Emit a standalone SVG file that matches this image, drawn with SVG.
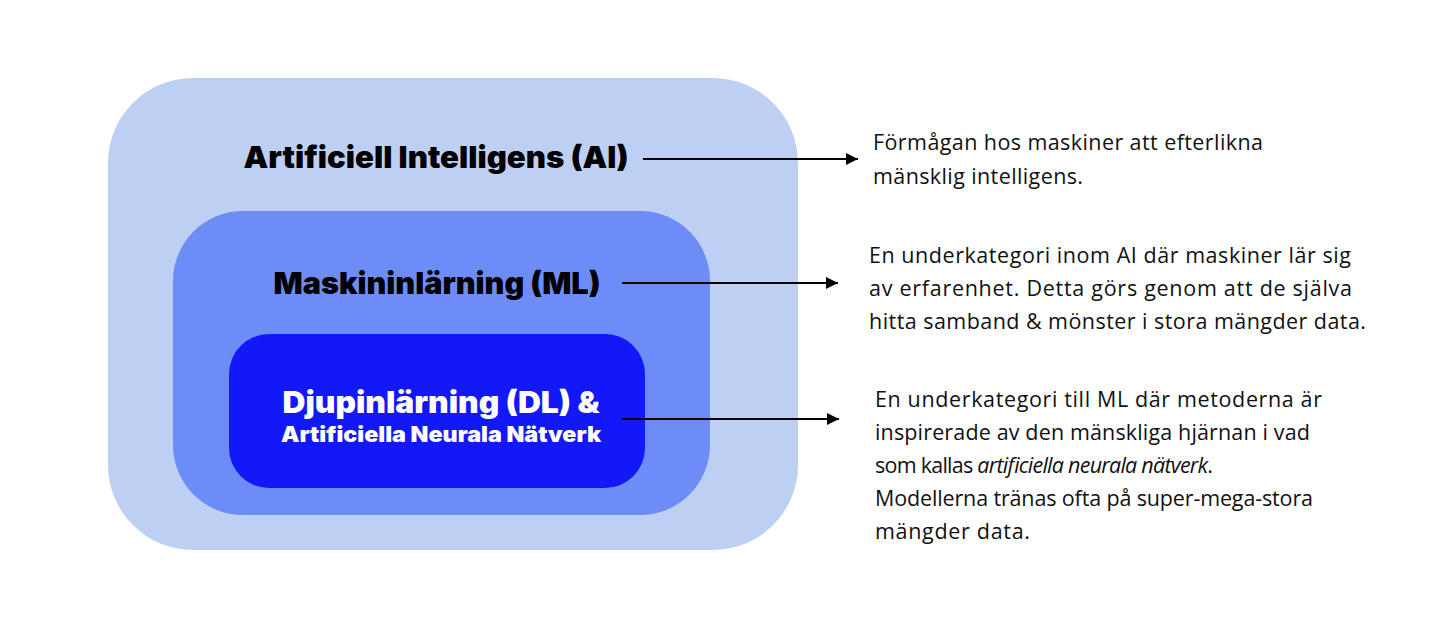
<svg xmlns="http://www.w3.org/2000/svg" width="1456" height="636" viewBox="0 0 1456 636">
<style>
.title{font-family:Inter,"Noto Sans","DejaVu Sans",sans-serif;font-weight:900;}
.desc{font-family:"Open Sans","Noto Sans","Liberation Sans",sans-serif;font-size:21.5px;fill:#111;}
.conn{stroke:#000;stroke-width:2;fill:none;}
</style>
<defs>
<marker id="arr" viewBox="0 0 10 10" refX="10" refY="5" markerWidth="6" markerHeight="6" markerUnits="strokeWidth" orient="auto">
<path d="M0,0 L10,5 L0,10 z" fill="#000"/>
</marker>
</defs>
<rect width="1456" height="636" fill="#fff"/>
<g id="node-ai">
<rect x="108" y="78" width="690" height="472" rx="85" ry="85" fill="#BDD0F3"/>
<text class="title" x="436" y="168" font-size="30" text-anchor="middle" textLength="385" lengthAdjust="spacingAndGlyphs" fill="#000">Artificiell Intelligens (AI)</text>
</g>
<g id="node-ml">
<rect x="173" y="211" width="537" height="304" rx="70" ry="70" fill="#6E8CF5"/>
<text class="title" x="437" y="294" font-size="30" text-anchor="middle" textLength="327" lengthAdjust="spacingAndGlyphs" fill="#000">Maskininlärning (ML)</text>
</g>
<g id="node-dl">
<rect x="229" y="334" width="416" height="154" rx="40" ry="40" fill="#1218F8"/>
<text class="title" x="441" y="413" font-size="30" text-anchor="middle" textLength="317" lengthAdjust="spacingAndGlyphs" fill="#fff">Djupinlärning (DL) &amp;</text>
<text class="title" x="441" y="442" font-size="21" text-anchor="middle" textLength="320" lengthAdjust="spacingAndGlyphs" fill="#fff">Artificiella Neurala Nätverk</text>
</g>
<g id="connectors">
<line class="conn" x1="643" y1="159" x2="858" y2="159" marker-end="url(#arr)"/>
<line class="conn" x1="622" y1="283" x2="838" y2="283" marker-end="url(#arr)"/>
<line class="conn" x1="622" y1="419" x2="839" y2="419" marker-end="url(#arr)"/>
</g>
<g id="text-ai">
<text class="desc" x="873" y="150" textLength="390">Förmågan hos maskiner att efterlikna</text>
<text class="desc" x="873" y="184" textLength="210">mänsklig intelligens.</text>
</g>
<g id="text-ml">
<text class="desc" x="869" y="263" textLength="482">En underkategori inom AI där maskiner lär sig</text>
<text class="desc" x="869" y="296" textLength="483">av erfarenhet. Detta görs genom att de själva</text>
<text class="desc" x="869" y="329" textLength="497">hitta samband &amp; mönster i stora mängder data.</text>
</g>
<g id="text-dl">
<text class="desc" x="875" y="407" textLength="447">En underkategori till ML där metoderna är</text>
<text class="desc" x="875" y="440" textLength="435">inspirerade av den mänskliga hjärnan i vad</text>
<text class="desc" x="875" y="473" textLength="338">som kallas <tspan font-style="italic">artificiella neurala nätverk</tspan>.</text>
<text class="desc" x="875" y="506" textLength="438">Modellerna tränas ofta på super-mega-stora</text>
<text class="desc" x="875" y="539" textLength="155">mängder data.</text>
</g>
</svg>
